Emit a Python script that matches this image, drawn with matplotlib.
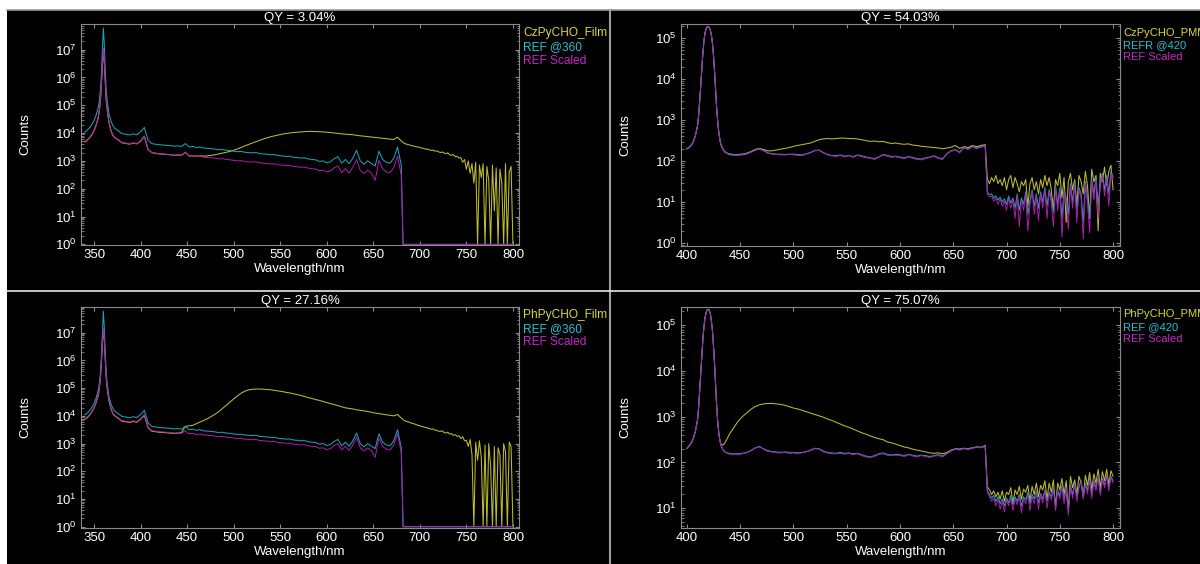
import numpy as np
import matplotlib
matplotlib.use("Agg")
import matplotlib.pyplot as plt
from matplotlib.lines import Line2D
from matplotlib.patches import Rectangle
from matplotlib.ticker import LogLocator, FixedLocator, NullFormatter

plt.rcParams['font.family'] = ['Liberation Sans', 'DejaVu Sans']
plt.rcParams['mathtext.fontset'] = 'custom'
plt.rcParams['mathtext.rm'] = 'Liberation Sans'
plt.rcParams['mathtext.it'] = 'Liberation Sans:italic'
plt.rcParams['mathtext.bf'] = 'Liberation Sans:bold'


def logs(text):
    # spectra are typed as log10(counts)
    return np.array(text.split(), dtype=float)


# wavelength grids (nm): excitation 360 nm films, excitation 420 nm PMMA
wl_360 = np.concatenate([
    [340, 342, 344, 346, 348, 350, 352, 354, 355, 356, 357, 358, 359, 360,
     361, 362, 363, 364, 366, 368, 370],
    np.arange(372, 681, 4),
    np.arange(682, 801, 2),
])
wl_420 = np.concatenate([
    [400, 402, 404, 406, 408],
    np.arange(410, 433),
    [434, 436, 438],
    np.arange(440, 681, 4),
    np.arange(682, 801, 2),
])

# ---- 360 nm excitation ----
ref_360 = logs("""
4.04 4.08 4.15 4.22 4.32 4.45 4.62 4.85 5.00 5.25 5.60 6.20 7.00 7.78 7.20 6.30 5.60 5.20 4.70 4.45 4.28
4.18 4.08 3.98 3.96 3.93 3.97 3.94 4.05 4.20 3.75
3.62 3.60 3.58 3.57 3.56 3.55 3.53 3.54 3.52 3.62
3.50 3.52 3.48 3.50 3.46 3.45 3.44 3.42 3.40 3.41
3.38 3.37 3.35 3.33 3.34 3.31 3.30 3.29 3.30 3.26
3.25 3.24 3.22 3.23 3.19 3.18 3.16 3.17 3.13 3.12
3.10 3.11 3.07 3.05 3.04 2.98 3.00 2.93 2.97 3.08
3.15 2.92 3.05 2.90 3.10 3.38 3.00 2.88 3.00 2.90
2.82 3.35 3.05 2.95 2.92 3.10 3.50 2.85
0 0 0 0 0 0 0 0 0 0
0 0 0 0 0 0 0 0 0 0
0 0 0 0 0 0 0 0 0 0
0 0 0 0 0 0 0 0 0 0
0 0 0 0 0 0 0 0 0 0
0 0 0 0 0 0 0 0 0 0
""")

ref_scaled_cz_film = logs("""
3.70 3.74 3.80 3.88 3.98 4.10 4.28 4.50 4.66 4.90 5.25 5.80 6.50 7.05 6.60 5.90 5.25 4.88 4.40 4.12 3.95
3.85 3.76 3.66 3.64 3.60 3.65 3.62 3.72 3.90 3.42
3.30 3.28 3.26 3.25 3.24 3.22 3.20 3.22 3.20 3.32
3.17 3.19 3.16 3.17 3.13 3.12 3.11 3.10 3.07 3.08
3.05 3.04 3.02 3.00 3.01 2.98 2.96 2.96 2.97 2.93
2.92 2.90 2.89 2.90 2.86 2.85 2.83 2.84 2.80 2.79
2.77 2.78 2.74 2.72 2.71 2.65 2.67 2.60 2.64 2.75
2.82 2.58 2.72 2.56 2.77 3.05 2.66 2.55 2.66 2.56
2.30 3.02 2.72 2.60 2.58 2.76 3.17 2.50
0 0 0 0 0 0 0 0 0 0
0 0 0 0 0 0 0 0 0 0
0 0 0 0 0 0 0 0 0 0
0 0 0 0 0 0 0 0 0 0
0 0 0 0 0 0 0 0 0 0
0 0 0 0 0 0 0 0 0 0
""")

cz_film = logs("""
3.68 3.72 3.79 3.86 3.96 4.08 4.26 4.48 4.64 4.88 5.22 5.78 6.45 7.00 6.55 5.85 5.22 4.85 4.38 4.10 3.93
3.84 3.75 3.65 3.63 3.60 3.64 3.61 3.71 3.88 3.41
3.30 3.27 3.25 3.24 3.23 3.22 3.20 3.21 3.20 3.31
3.18 3.18 3.17 3.18 3.17 3.18 3.20 3.22 3.25 3.28
3.31 3.34 3.38 3.43 3.48 3.54 3.59 3.64 3.69 3.74
3.79 3.83 3.87 3.90 3.93 3.96 3.98 4.00 4.02 4.03
4.04 4.05 4.06 4.06 4.05 4.05 4.04 4.03 4.02 4.00
3.99 3.97 3.96 3.95 3.94 3.92 3.90 3.89 3.87 3.86
3.84 3.83 3.81 3.80 3.78 3.77 3.85 3.72
3.66 3.62 3.60 3.58 3.56 3.54 3.53 3.51 3.50 3.48
3.46 3.45 3.42 3.43 3.40 3.38 3.39 3.35 3.36 3.33
3.30 3.32 3.28 3.26 3.29 3.22 3.20 3.23 3.15 3.17
3.10 3.12 2.95 3.05 2.70 3.00 2.55 2.90 2.20 2.95
0.00 2.85 2.40 2.90 0.00 2.80 2.30 0.00 2.85 1.20
2.75 0.00 2.70 2.20 0.00 2.90 0.00 2.60 2.80 0.00
""")

ref_scaled_ph_film = logs("""
3.90 3.94 4.00 4.08 4.18 4.30 4.48 4.70 4.85 5.10 5.45 6.00 6.70 7.15 6.80 6.10 5.45 5.05 4.58 4.30 4.12
4.03 3.93 3.83 3.81 3.78 3.82 3.79 3.90 4.05 3.60
3.47 3.45 3.43 3.42 3.41 3.40 3.38 3.39 3.37 3.47
3.35 3.37 3.33 3.35 3.31 3.30 3.29 3.27 3.25 3.26
3.23 3.22 3.20 3.18 3.19 3.16 3.15 3.14 3.15 3.11
3.10 3.09 3.07 3.08 3.04 3.03 3.01 3.02 2.98 2.97
2.95 2.96 2.92 2.90 2.89 2.83 2.85 2.78 2.82 2.93
3.00 2.77 2.90 2.75 2.95 3.23 2.85 2.73 2.85 2.75
2.50 3.20 2.90 2.80 2.77 2.95 3.35 2.70
0 0 0 0 0 0 0 0 0 0
0 0 0 0 0 0 0 0 0 0
0 0 0 0 0 0 0 0 0 0
0 0 0 0 0 0 0 0 0 0
0 0 0 0 0 0 0 0 0 0
0 0 0 0 0 0 0 0 0 0
""")

ph_film = logs("""
3.88 3.92 3.98 4.06 4.16 4.28 4.46 4.68 4.83 5.08 5.42 5.96 6.65 7.10 6.75 6.05 5.42 5.02 4.55 4.28 4.10
4.01 3.91 3.81 3.79 3.76 3.80 3.77 3.88 4.02 3.58
3.45 3.43 3.41 3.40 3.39 3.38 3.37 3.38 3.40 3.62
3.64 3.66 3.72 3.78 3.84 3.90 3.98 4.06 4.16 4.27
4.38 4.50 4.61 4.72 4.82 4.89 4.94 4.96 4.97 4.97
4.96 4.95 4.94 4.92 4.90 4.88 4.85 4.83 4.80 4.77
4.74 4.70 4.66 4.63 4.59 4.56 4.52 4.48 4.44 4.41
4.37 4.33 4.29 4.27 4.25 4.22 4.20 4.18 4.16 4.13
4.10 4.08 4.06 4.04 4.02 4.00 4.05 3.92
3.86 3.82 3.80 3.78 3.75 3.73 3.71 3.69 3.66 3.64
3.62 3.60 3.58 3.57 3.54 3.52 3.53 3.49 3.48 3.45
3.44 3.46 3.40 3.38 3.41 3.34 3.36 3.30 3.32 3.26
3.28 3.18 3.25 3.10 3.12 2.90 3.15 2.60 0.00 3.05
2.40 3.10 2.50 0.00 2.95 0.00 3.00 2.20 0.00 2.90
0.00 2.85 2.60 0.00 3.00 2.70 0.00 3.05 2.90 0.00
""")

# ---- 420 nm excitation ----
refr_420 = logs("""
2.30 2.33 2.38 2.47 2.62
2.86 3.10 3.45 3.85 4.25 4.62 4.92 5.12 5.22 5.27 5.28 5.26 5.20 5.08 4.88 4.58 4.18 3.72 3.28 2.95 2.70 2.52 2.40
2.28 2.22 2.19
2.17 2.16 2.15 2.16 2.18 2.22 2.27 2.30 2.26 2.20
2.18 2.17 2.17 2.16 2.17 2.17 2.16 2.15 2.18 2.21
2.26 2.27 2.21 2.16 2.14 2.13 2.15 2.12 2.14 2.11
2.15 2.13 2.10 2.08 2.06 2.10 2.16 2.14 2.11 2.12
2.10 2.08 2.11 2.09 2.06 2.05 2.08 2.10 2.13 2.08
2.06 2.18 2.25 2.28 2.22 2.33 2.30 2.36 2.32 2.35
2.37
1.24 1.18 1.20 1.10 1.15 1.05 1.12 1.00 1.08 0.95
1.15 0.98 1.10 0.85 1.20 0.80 1.10 0.95 1.25 0.70
1.05 1.30 0.90 1.20 0.85 1.25 1.00 1.35 0.90 1.30
1.10 0.75 1.40 0.95 1.35 0.60 1.30 1.10 0.70 1.45
1.00 1.50 0.80 1.35 1.20 0.50 1.50 1.10 0.60 1.55
1.20 1.60 0.95 1.45 1.70 1.30 1.65 1.20 1.75 1.60
""")

ref_scaled_cz_pmm = logs("""
2.29 2.32 2.37 2.46 2.61
2.85 3.09 3.44 3.84 4.24 4.61 4.91 5.11 5.21 5.26 5.27 5.25 5.19 5.07 4.87 4.57 4.17 3.71 3.27 2.94 2.69 2.51 2.39
2.27 2.21 2.18
2.15 2.14 2.14 2.15 2.17 2.21 2.26 2.29 2.25 2.19
2.17 2.16 2.15 2.15 2.16 2.15 2.14 2.13 2.17 2.20
2.25 2.26 2.20 2.15 2.13 2.11 2.14 2.10 2.13 2.09
2.14 2.11 2.08 2.07 2.04 2.09 2.15 2.12 2.09 2.11
2.08 2.06 2.10 2.07 2.04 2.03 2.06 2.09 2.12 2.06
2.04 2.17 2.24 2.27 2.20 2.32 2.28 2.35 2.30 2.34
2.36
1.20 1.12 1.15 1.02 1.10 0.95 1.08 0.90 1.02 0.80
1.10 0.85 1.05 0.60 1.15 0.40 1.05 0.80 1.20 0.30
0.95 1.25 0.70 1.15 0.55 1.20 0.85 1.30 0.60 1.25
1.00 0.40 1.35 0.80 1.30 0.15 1.25 1.00 0.35 1.40
0.85 1.45 0.50 1.30 1.10 0.10 1.45 0.95 0.25 1.50
1.05 1.55 0.60 1.40 1.65 1.15 1.60 0.90 1.70 1.55
""")

cz_pmm = logs("""
2.30 2.33 2.38 2.47 2.62
2.86 3.10 3.45 3.85 4.25 4.62 4.92 5.12 5.22 5.27 5.28 5.26 5.20 5.08 4.88 4.58 4.18 3.72 3.28 2.95 2.70 2.52 2.40
2.28 2.22 2.19
2.17 2.16 2.16 2.17 2.19 2.23 2.28 2.31 2.28 2.25
2.25 2.27 2.29 2.31 2.33 2.36 2.38 2.40 2.42 2.44
2.48 2.52 2.54 2.55 2.54 2.55 2.56 2.56 2.55 2.55
2.54 2.52 2.50 2.48 2.49 2.47 2.48 2.45 2.43 2.44
2.42 2.41 2.42 2.39 2.38 2.36 2.35 2.34 2.33 2.32
2.30 2.32 2.34 2.38 2.31 2.35 2.33 2.38 2.35 2.38
2.40
1.56 1.45 1.60 1.50 1.65 1.45 1.55 1.40 1.60 1.30
1.55 1.65 1.35 1.60 1.45 1.25 1.50 1.40 1.55 0.90
1.45 1.60 1.30 1.50 1.20 1.55 1.35 1.65 1.40 1.60
1.30 0.80 1.55 1.40 1.70 1.10 1.60 0.50 1.50 1.70
1.30 1.55 0.90 1.65 1.50 1.20 1.75 1.40 0.60 1.80
1.50 1.65 0.30 1.70 1.50 1.85 1.40 1.75 1.90 1.30
""")

ref_420 = logs("""
2.31 2.36 2.42 2.52 2.68
2.93 3.20 3.58 3.95 4.31 4.68 4.96 5.16 5.27 5.33 5.35 5.33 5.26 5.10 4.89 4.55 4.16 3.68 3.22 2.88 2.64 2.48 2.38
2.28 2.23 2.21
2.20 2.19 2.19 2.20 2.22 2.26 2.32 2.35 2.30 2.26
2.24 2.23 2.22 2.23 2.22 2.22 2.21 2.22 2.24 2.27
2.31 2.30 2.25 2.22 2.21 2.20 2.22 2.20 2.21 2.19
2.20 2.17 2.14 2.12 2.15 2.19 2.21 2.18 2.16 2.18
2.17 2.15 2.18 2.16 2.14 2.16 2.15 2.13 2.15 2.17
2.14 2.20 2.26 2.30 2.29 2.31 2.30 2.32 2.34 2.33
2.36
1.38 1.30 1.22 1.28 1.15 1.25 1.10 1.20 1.05 1.22
1.12 1.28 1.08 1.25 1.15 1.30 1.05 1.25 1.18 1.35
1.10 1.30 1.20 1.38 1.12 1.32 1.20 1.40 1.15 1.35
1.25 1.45 1.10 1.40 1.28 1.50 1.20 1.45 0.95 1.50
1.30 1.55 1.25 1.48 1.60 1.30 1.55 1.40 1.65 1.30
1.60 1.45 1.70 1.35 1.65 1.50 1.72 1.45 1.70 1.60
""")

ref_scaled_ph_pmm = logs("""
2.30 2.35 2.41 2.51 2.67
2.92 3.19 3.57 3.94 4.30 4.67 4.95 5.15 5.26 5.32 5.34 5.32 5.25 5.09 4.88 4.54 4.15 3.67 3.21 2.87 2.63 2.47 2.37
2.27 2.22 2.20
2.18 2.18 2.17 2.19 2.21 2.25 2.31 2.34 2.29 2.24
2.23 2.21 2.21 2.22 2.20 2.21 2.19 2.21 2.23 2.26
2.30 2.29 2.23 2.21 2.19 2.19 2.20 2.18 2.20 2.17
2.19 2.15 2.12 2.11 2.13 2.18 2.19 2.16 2.15 2.16
2.15 2.13 2.17 2.14 2.12 2.15 2.13 2.11 2.14 2.15
2.12 2.19 2.25 2.29 2.27 2.30 2.28 2.31 2.33 2.32
2.35
1.35 1.25 1.15 1.22 1.05 1.20 0.98 1.15 0.92 1.18
1.05 1.22 0.95 1.20 1.08 1.25 0.90 1.20 1.10 1.30
0.95 1.25 1.10 1.35 0.98 1.28 1.12 1.38 1.00 1.32
1.18 1.42 0.95 1.38 1.20 1.48 1.10 1.42 0.85 1.48
1.22 1.52 1.15 1.45 1.58 1.20 1.52 1.32 1.62 1.22
1.58 1.38 1.68 1.28 1.62 1.45 1.70 1.38 1.68 1.55
""")

ph_pmm = logs("""
2.31 2.36 2.42 2.52 2.68
2.93 3.20 3.58 3.95 4.31 4.68 4.96 5.16 5.27 5.33 5.35 5.33 5.26 5.10 4.89 4.55 4.16 3.68 3.22 2.88 2.64 2.48 2.40
2.38 2.44 2.53
2.62 2.76 2.90 3.00 3.08 3.16 3.22 3.26 3.28 3.29
3.29 3.28 3.27 3.25 3.22 3.19 3.17 3.14 3.11 3.08
3.05 3.02 2.99 2.95 2.92 2.88 2.84 2.80 2.77 2.73
2.69 2.65 2.62 2.58 2.55 2.52 2.50 2.45 2.43 2.40
2.37 2.34 2.32 2.29 2.27 2.25 2.23 2.21 2.20 2.21
2.19 2.22 2.27 2.30 2.29 2.31 2.30 2.32 2.34 2.33
2.37
1.47 1.40 1.30 1.38 1.25 1.35 1.20 1.38 1.15 1.35
1.30 1.45 1.10 1.40 1.30 1.48 1.20 1.42 1.35 1.50
1.15 1.48 1.30 1.55 1.25 1.50 1.40 1.60 1.20 1.55
1.35 1.62 1.00 1.55 1.40 1.65 1.30 1.60 0.95 1.70
1.45 1.62 1.30 1.70 1.55 1.25 1.72 1.50 1.78 1.40
1.75 1.55 1.85 1.45 1.80 1.60 1.85 1.50 1.82 1.70
""")

qy_titles = ["QY = 3.04%", "QY = 54.03%", "QY = 27.16%", "QY = 75.07%"]
legend_names = [
    ["CzPyCHO_Film", "REF @360", "REF Scaled"],
    ["CzPyCHO_PMM", "REFR @420", "REF Scaled"],
    ["PhPyCHO_Film", "REF @360", "REF Scaled"],
    ["PhPyCHO_PMM", "REF @420", "REF Scaled"],
]

LINE_COLORS = ["#bcbc32", "#1ca2b2", "#b01cb0"]
TEXT_COLORS = ["#d8d83a", "#2cc0d0", "#c42ac4"]
SPINE = "#8a8a8a"

W, H = 1200, 564
fig = plt.figure(figsize=(W / 100, H / 100), dpi=100, facecolor="white")

# black canvas behind the panels, plus the panel dividers
fig.patches.append(Rectangle((7 / W, 0), 1 - 7 / W, 1 - 10 / H, transform=fig.transFigure,
                             facecolor="black", edgecolor="none", zorder=-10))
fig.add_artist(Line2D([7 / W, 1], [1 - 10 / H] * 2, color="#9a9a9a", lw=1.2))
fig.add_artist(Line2D([609.5 / W] * 2, [0, 1 - 10 / H], color="#a0a0a0", lw=1.5))
fig.add_artist(Line2D([7 / W, 1], [1 - 291 / H] * 2, color="#e6e6e6", lw=1.2))


def add_panel(l, t, r, b):
    return fig.add_axes([l / W, 1 - b / H, (r - l) / W, (b - t) / H])


panels = [
    dict(box=(81, 24, 519, 245), wl=wl_360, ys=(cz_film, ref_360, ref_scaled_cz_film),
         xlim=(336, 806.5), ylim=(0.95, 8.3e7), xt=np.arange(350, 801, 50),
         leg_x=523, leg_y=(33, 47, 61), leg_fs=8.6, ylab_x=25),
    dict(box=(681, 24, 1120, 246), wl=wl_420, ys=(cz_pmm, refr_420, ref_scaled_cz_pmm),
         xlim=(394.5, 806.5), ylim=(0.85, 2.2e5), xt=np.arange(400, 801, 50),
         leg_x=1123, leg_y=(33, 45, 57), leg_fs=8, ylab_x=625),
    dict(box=(81, 307, 519, 528), wl=wl_360, ys=(ph_film, ref_360, ref_scaled_ph_film),
         xlim=(336, 806.5), ylim=(0.9, 8.5e7), xt=np.arange(350, 801, 50),
         leg_x=523, leg_y=(315, 329, 342), leg_fs=8.6, ylab_x=25),
    dict(box=(681, 307, 1120, 528), wl=wl_420, ys=(ph_pmm, ref_420, ref_scaled_ph_pmm),
         xlim=(394.5, 806.5), ylim=(3.7, 2.5e5), xt=np.arange(400, 801, 50),
         leg_x=1123, leg_y=(314, 327, 339), leg_fs=8, ylab_x=625),
]

for p, title, names in zip(panels, qy_titles, legend_names):
    l, t, r, b = p["box"]
    ax = add_panel(l, t, r, b)
    ax.set_facecolor("black")
    ax.set_yscale("log")

    for y, c, lw in zip(p["ys"], LINE_COLORS, (0.75, 0.75, 0.7)):
        ax.plot(p["wl"], 10 ** y, color=c, lw=lw)

    ax.set_xlim(*p["xlim"])
    ax.set_ylim(*p["ylim"])
    ax.xaxis.set_major_locator(FixedLocator(p["xt"]))
    ax.yaxis.set_major_locator(LogLocator(base=10))
    ax.yaxis.set_minor_locator(LogLocator(base=10, subs=np.arange(2, 10)))
    ax.yaxis.set_minor_formatter(NullFormatter())

    for s in ax.spines.values():
        s.set_color(SPINE)
        s.set_linewidth(0.8)
    ax.tick_params(which="both", direction="in", colors=SPINE, labelcolor="white",
                   top=True, right=True, labelsize=9.5)
    ax.tick_params(which="major", length=3, width=0.8, pad=3)
    ax.tick_params(which="minor", length=1.8, width=0.6)

    ax.set_title(title, color="white", fontsize=9.5, pad=2)
    ax.text(0.5, -24 / (b - t), "Wavelength/nm", transform=ax.transAxes,
            ha="center", va="center", color="white", fontsize=9.5)
    ax.text((p["ylab_x"] - l) / (r - l), 0.5, "Counts",
            transform=ax.transAxes, rotation=90, ha="center", va="center",
            color="white", fontsize=9.5)

    for name, ty, tc in zip(names, p["leg_y"], TEXT_COLORS):
        fig.text(p["leg_x"] / W, 1 - ty / H, name, color=tc, fontsize=p["leg_fs"],
                 ha="left", va="center")

fig.savefig("out.png", dpi=100, facecolor=fig.get_facecolor())
